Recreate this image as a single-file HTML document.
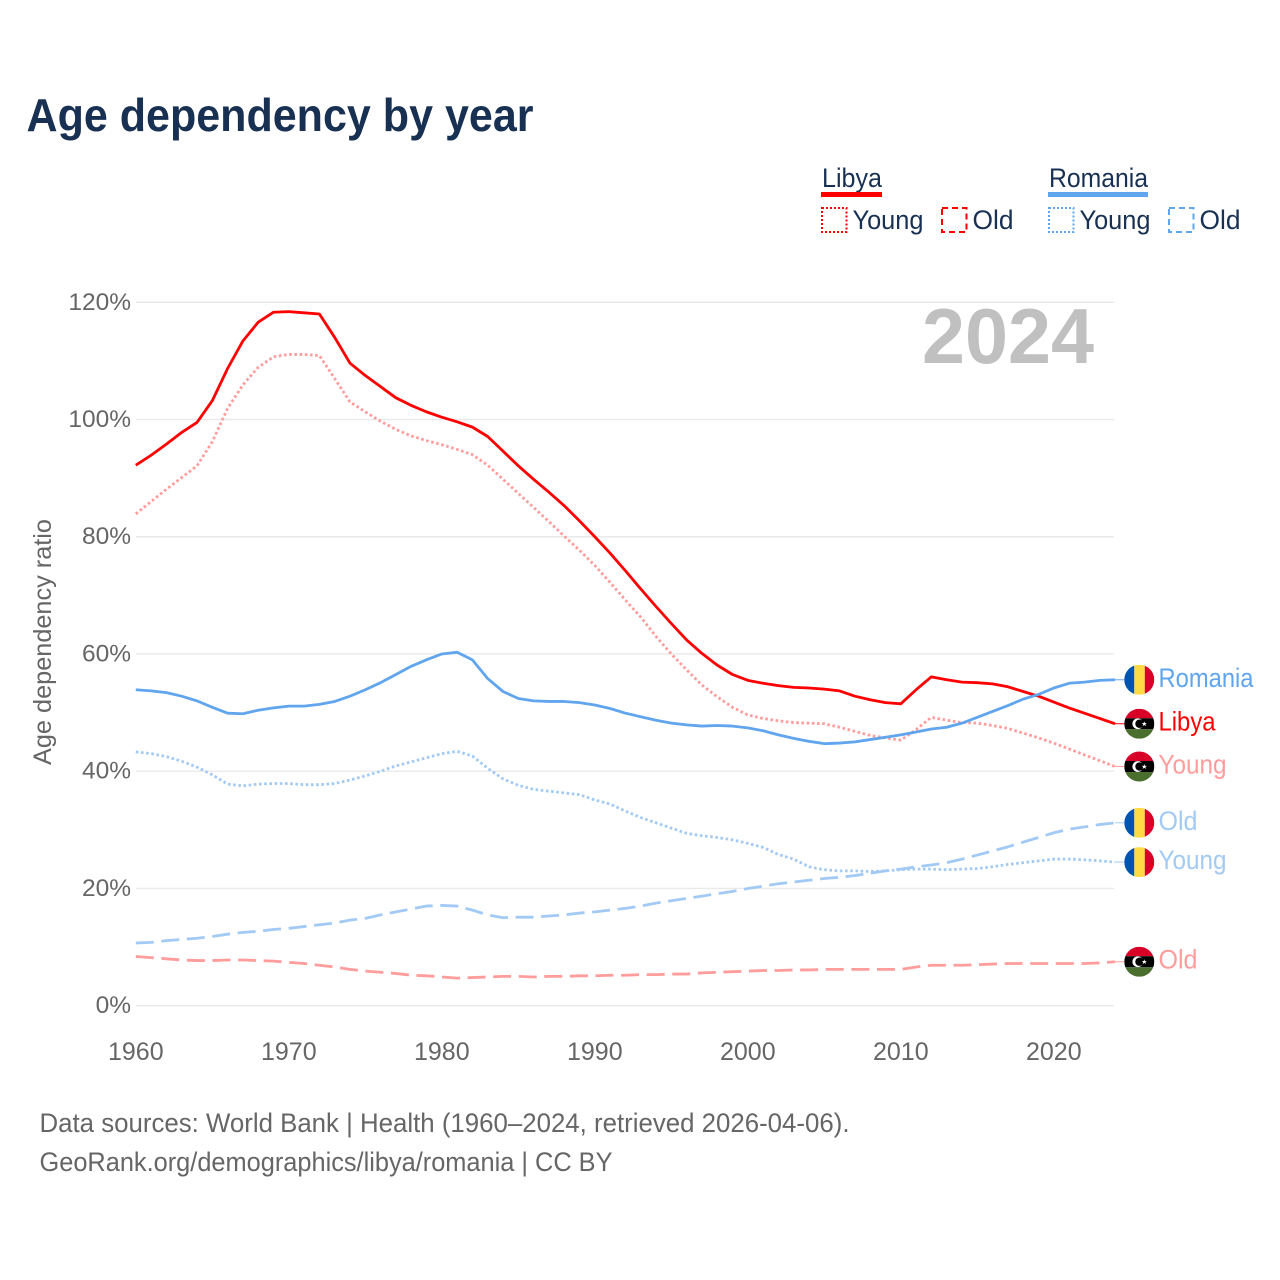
<!DOCTYPE html>
<html lang="en">
<head>
<meta charset="utf-8">
<title>Age dependency by year</title>
<style>
html,body{margin:0;padding:0;background:#fff;}
svg{display:block;font-family:"Liberation Sans",sans-serif;}
</style>
</head>
<body>
<svg id="chart" width="1280" height="1280" viewBox="0 0 1280 1280" xmlns="http://www.w3.org/2000/svg">
  <rect width="1280" height="1280" fill="#fff"/>
  <defs>
    <clipPath id="flag-clip"><circle cx="0" cy="0" r="15"/></clipPath>
  </defs>
  <text x="26.5" y="131" font-size="46" font-weight="700" fill="#183153" textLength="507" lengthAdjust="spacingAndGlyphs">Age dependency by year</text>

  <g fill="#183153" font-size="27">
    <text x="822" y="187" textLength="60" lengthAdjust="spacingAndGlyphs">Libya</text>
    <rect x="821" y="192" width="61" height="5" fill="#ff0000"/>
    <rect x="822" y="208" width="24.5" height="24" fill="none" stroke="#ff0000" stroke-width="2" stroke-dasharray="2 2"/>
    <text x="852.5" y="229" textLength="71" lengthAdjust="spacingAndGlyphs">Young</text>
    <rect x="942" y="208" width="24.5" height="24" fill="none" stroke="#ff0000" stroke-width="2" stroke-dasharray="6 4"/>
    <text x="972.5" y="229" textLength="41" lengthAdjust="spacingAndGlyphs">Old</text>
    <text x="1049" y="187" textLength="99" lengthAdjust="spacingAndGlyphs">Romania</text>
    <rect x="1048" y="192" width="100" height="5" fill="#60a5ee"/>
    <rect x="1049" y="208" width="24.5" height="24" fill="none" stroke="#60a5ee" stroke-width="2" stroke-dasharray="2 2"/>
    <text x="1079.5" y="229" textLength="71" lengthAdjust="spacingAndGlyphs">Young</text>
    <rect x="1169" y="208" width="24.5" height="24" fill="none" stroke="#60a5ee" stroke-width="2" stroke-dasharray="6 4"/>
    <text x="1199.5" y="229" textLength="41" lengthAdjust="spacingAndGlyphs">Old</text>
  </g>

  <g id="grid"></g>
  <g id="yaxis"></g>
  <g id="xaxis"></g>
  <text transform="translate(51,642) rotate(-90)" text-anchor="middle" font-size="25" fill="#666" textLength="246" lengthAdjust="spacingAndGlyphs">Age dependency ratio</text>
  <text x="1094" y="363" text-anchor="end" font-size="78" font-weight="700" fill="#c0c0c0" textLength="172" lengthAdjust="spacingAndGlyphs">2024</text>
  <g id="series"></g>
  <g id="endlabels"></g>

  <text x="39.5" y="1132" font-size="27" fill="#666" textLength="810" lengthAdjust="spacingAndGlyphs">Data sources: World Bank | Health (1960–2024, retrieved 2026-04-06).</text>
  <text x="39.5" y="1171" font-size="27" fill="#666" textLength="573" lengthAdjust="spacingAndGlyphs">GeoRank.org/demographics/libya/romania | CC BY</text>
</svg>
<script>
var firstYear = 1960;
var yTicks = [0, 20, 40, 60, 80, 100, 120];
var xTicks = [1960, 1970, 1980, 1990, 2000, 2010, 2020];

var libyaTotal = [92.2,93.9,95.8,97.8,99.5,103.2,108.7,113.4,116.6,118.3,118.4,118.2,118.0,114.0,109.6,107.5,105.6,103.7,102.4,101.3,100.4,99.6,98.7,97.1,94.6,92.1,89.8,87.6,85.3,82.7,80.0,77.2,74.2,71.1,68.1,65.2,62.4,60.1,58.1,56.5,55.5,55.0,54.6,54.3,54.2,54.0,53.7,52.8,52.2,51.7,51.5,53.9,56.1,55.6,55.2,55.1,54.9,54.4,53.6,52.8,51.8,50.8,49.9,49.0,48.1];
var libyaYoung = [83.9,86.0,88.1,90.1,92.1,96.2,101.9,105.9,108.9,110.7,111.1,111.1,110.9,107.0,103.0,101.3,99.7,98.3,97.2,96.4,95.7,94.9,94.0,92.2,89.8,87.4,85.0,82.6,80.1,77.7,75.1,72.2,69.2,66.3,63.0,60.0,57.3,54.7,52.7,50.9,49.6,49.0,48.6,48.3,48.2,48.1,47.5,46.8,46.1,45.7,45.3,47.1,49.2,48.7,48.3,48.2,47.8,47.3,46.5,45.7,44.8,43.8,42.8,41.8,40.8];
var libyaOld = [8.4,8.2,8.0,7.8,7.7,7.7,7.8,7.8,7.7,7.6,7.4,7.2,6.9,6.6,6.2,5.9,5.7,5.5,5.2,5.1,4.9,4.7,4.8,4.9,5.0,5.0,4.9,5.0,5.0,5.1,5.1,5.2,5.2,5.3,5.3,5.4,5.4,5.6,5.7,5.8,5.9,6.0,6.0,6.1,6.1,6.2,6.2,6.2,6.2,6.2,6.2,6.6,6.9,6.9,6.9,7.0,7.1,7.2,7.2,7.2,7.2,7.2,7.2,7.3,7.5];
var romaniaTotal = [53.9,53.7,53.4,52.8,52.0,50.9,49.9,49.8,50.4,50.8,51.1,51.1,51.4,51.9,52.8,53.9,55.1,56.5,57.9,59.0,60.0,60.3,59.0,55.8,53.6,52.4,52.0,51.9,51.9,51.7,51.3,50.7,49.9,49.3,48.7,48.2,47.9,47.7,47.8,47.7,47.4,46.9,46.2,45.6,45.1,44.7,44.8,45.0,45.4,45.8,46.2,46.7,47.2,47.5,48.2,49.2,50.2,51.2,52.3,53.1,54.2,55.0,55.2,55.5,55.6];
var romaniaYoung = [43.3,43.0,42.5,41.7,40.7,39.4,37.8,37.5,37.8,37.9,37.9,37.7,37.7,37.9,38.5,39.2,40.0,40.9,41.6,42.3,43.0,43.4,42.6,40.5,38.7,37.6,36.9,36.6,36.3,36.0,35.1,34.4,33.2,32.1,31.2,30.3,29.4,29.0,28.7,28.3,27.7,27.0,25.8,25.0,23.7,23.2,23.0,23.0,22.9,23.0,23.2,23.3,23.3,23.2,23.3,23.4,23.7,24.1,24.4,24.7,25.0,25.0,24.9,24.7,24.5];
var romaniaOld = [10.7,10.8,11.1,11.3,11.5,11.8,12.2,12.5,12.7,13.0,13.2,13.5,13.8,14.1,14.6,14.9,15.5,16.0,16.5,17.0,17.1,17.0,16.3,15.5,15.0,15.1,15.1,15.3,15.5,15.8,16.0,16.3,16.6,17.0,17.5,17.9,18.3,18.7,19.1,19.5,20.0,20.4,20.8,21.1,21.4,21.7,21.9,22.2,22.6,23.0,23.3,23.7,24.0,24.4,25.0,25.7,26.4,27.1,27.9,28.7,29.5,30.1,30.5,30.9,31.2];

var NS = 'http://www.w3.org/2000/svg';
var RED = '#ff0000', BLUE = '#60a5ee', RED_LIGHT = '#ff9c9c', BLUE_LIGHT = '#a2caf4';

function xs(year) { return 135.8 + (year - firstYear) * 15.3; }
function ys(v) { return 1005.7 - v * 5.862; }
function svgEl(tag, attrs, parent) {
  var el = document.createElementNS(NS, tag);
  for (var k in attrs) el.setAttribute(k, attrs[k]);
  parent.appendChild(el);
  return el;
}

var grid = document.getElementById('grid');
var yaxis = document.getElementById('yaxis');
var xaxis = document.getElementById('xaxis');

yTicks.forEach(function (t) {
  var line = svgEl('line', {x1: 136, x2: 1114, y1: ys(t), y2: ys(t), stroke: '#e9e9e9', 'stroke-width': 1.4}, grid);
  
  
  var lab = svgEl('text', {x: 131, y: ys(t) + 7.5, 'text-anchor': 'end', 'font-size': 24.5, fill: '#666'}, yaxis);
  lab.textContent = t + '%';
  
  
});

xTicks.forEach(function (t) {
  var lab = svgEl('text', {x: xs(t), y: 1060, 'text-anchor': 'middle', 'font-size': 25, fill: '#666'}, xaxis);
  lab.textContent = t;
  
  
});

function drawSeries(values, color, dash, name) {
  var d = values.map(function (v, i) {
    return (i ? 'L' : 'M') + xs(firstYear + i).toFixed(2) + ' ' + ys(v).toFixed(2);
  }).join(' ');
  var p = svgEl('path', {d: d, fill: 'none', stroke: color, 'stroke-width': 2.8, 'stroke-linejoin': 'round'}, document.getElementById('series'));
  if (dash) p.setAttribute('stroke-dasharray', dash);
  
  
}

var DOT = '2.6 2.6', DASH = '18 7.6';
drawSeries(libyaOld, RED_LIGHT, DASH, 'line-libya-old');
drawSeries(romaniaOld, BLUE_LIGHT, DASH, 'line-romania-old');
drawSeries(romaniaYoung, BLUE_LIGHT, DOT, 'line-romania-young');
drawSeries(libyaYoung, RED_LIGHT, DOT, 'line-libya-young');
drawSeries(libyaTotal, RED, null, 'line-libya-total');
drawSeries(romaniaTotal, BLUE, null, 'line-romania-total');

function drawRomaniaFlag(g) {
  svgEl('rect', {x: -15, y: -15, width: 10, height: 30, fill: '#0052b4'}, g);
  svgEl('rect', {x: -5, y: -15, width: 10.5, height: 30, fill: '#ffda44'}, g);
  svgEl('rect', {x: 5.5, y: -15, width: 9.5, height: 30, fill: '#d80027'}, g);
}
function drawLibyaFlag(g) {
  svgEl('rect', {x: -15, y: -15, width: 30, height: 9.5, fill: '#d80027'}, g);
  svgEl('rect', {x: -15, y: -5.5, width: 30, height: 11, fill: '#000'}, g);
  svgEl('rect', {x: -15, y: 5.5, width: 30, height: 9.5, fill: '#496e2d'}, g);
  svgEl('circle', {cx: -1.5, cy: 0, r: 5.4, fill: '#fff'}, g);
  svgEl('circle', {cx: 0.2, cy: 0, r: 4.2, fill: '#000'}, g);
  svgEl('polygon', {points: '5,-2.4 5.7,-0.6 7.6,-0.6 6.1,0.5 6.7,2.4 5,1.2 3.3,2.4 3.9,0.5 2.4,-0.6 4.3,-0.6', fill: '#fff'}, g);
}

function drawEnd(values, country, text, color, width, name) {
  var host = document.getElementById('endlabels');
  var last = values[values.length - 1];
  var y = ys(last);
  var conn = svgEl('line', {x1: xs(firstYear + values.length - 1), x2: 1125, y1: y, y2: y, stroke: color, 'stroke-width': 1}, host);
  
  
  var flag = svgEl('g', {transform: 'translate(1139.3,' + y + ')', 'clip-path': 'url(#flag-clip)'}, host);
  
  
  if (country === 'romania') drawRomaniaFlag(flag); else drawLibyaFlag(flag);
  var lab = svgEl('text', {x: 1158.5, y: y + 7, 'font-size': 27, fill: color, textLength: width, lengthAdjust: 'spacingAndGlyphs'}, host);
  lab.textContent = text;
  
  
}

drawEnd(romaniaTotal, 'romania', 'Romania', BLUE, 95, 'end-romania-total');
drawEnd(libyaTotal, 'libya', 'Libya', RED, 57, 'end-libya-total');
drawEnd(libyaYoung, 'libya', 'Young', RED_LIGHT, 68, 'end-libya-young');
drawEnd(romaniaOld, 'romania', 'Old', BLUE_LIGHT, 39, 'end-romania-old');
drawEnd(romaniaYoung, 'romania', 'Young', BLUE_LIGHT, 68, 'end-romania-young');
drawEnd(libyaOld, 'libya', 'Old', RED_LIGHT, 39, 'end-libya-old');
</script>
</body>
</html>
